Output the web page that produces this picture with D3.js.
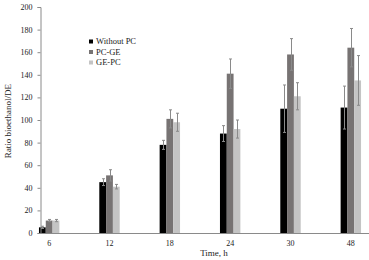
<!DOCTYPE html>
<html>
<head>
<meta charset="utf-8">
<script src="https://cdn.jsdelivr.net/npm/d3@7"></script>
<style>
  body { margin: 0; background: #fff; }
  svg { display: block; font-family: "Liberation Serif", "Times New Roman", serif; }
</style>
</head>
<body>
<div id="chart"></div>
<script>
// data
const hours = ['6', '12', '18', '24', '30', '48'];
const seriesNames = ['Without PC', 'PC-GE', 'GE-PC'];
const withoutPC = [5, 45, 78, 88, 110, 111];
const pcGE = [11, 51, 101, 141, 158, 164];
const gePC = [11, 41, 98, 92, 121, 135];
const errWithoutPC = [1, 3, 4, 7, 21, 19];
const errPcGE = [1, 5, 8, 13, 14, 17];
const errGePC = [1, 2, 8, 8, 12, 22];
const yTicks = [0, 20, 40, 60, 80, 100, 120, 140, 160, 180, 200];

const colors = ['#000000', '#777373', '#c4c4c4'];
const values = [withoutPC, pcGE, gePC];
const errors = [errWithoutPC, errPcGE, errGePC];

const width = 369, height = 260;
const axisX = 40;

const svg = d3.select('#chart').append('svg')
  .attr('width', width)
  .attr('height', height);

const x = d3.scaleBand()
  .domain(hours)
  .range([19, 381])
  .paddingInner(0)
  .paddingOuter(0);

const groupW = 20.4;
const x1 = d3.scaleBand()
  .domain(seriesNames)
  .range([0, groupW])
  .padding(0);

const y = d3.scaleLinear()
  .domain([0, 200])
  .range([233, 7]);

// bars
seriesNames.forEach(function(name, si) {
  svg.append('g')
    .selectAll('rect')
    .data(hours)
    .join('rect')
    .attr('x', function(h) { return x(h) + x.bandwidth() / 2 - groupW / 2 + x1(name); })
    .attr('y', function(h, i) { return y(values[si][i]); })
    .attr('width', x1.bandwidth())
    .attr('height', function(h, i) { return y(0) - y(values[si][i]); })
    .attr('fill', colors[si]);
});

// error bars
seriesNames.forEach(function(name, si) {
  const g = svg.append('g').attr('stroke', '#8a8a8a').attr('stroke-width', 1);
  hours.forEach(function(h, i) {
    const cx = Math.round(x(h) + x.bandwidth() / 2 - groupW / 2 + x1(name) + x1.bandwidth() / 2) + 0.5;
    const v = values[si][i], e = errors[si][i];
    g.append('line')
      .attr('x1', cx).attr('x2', cx)
      .attr('y1', y(v + e)).attr('y2', y(v - e));
    g.append('line')
      .attr('x1', cx - 1.5).attr('x2', cx + 1.5)
      .attr('y1', y(v + e)).attr('y2', y(v + e));
    g.append('line')
      .attr('x1', cx - 1.5).attr('x2', cx + 1.5)
      .attr('y1', y(v - e)).attr('y2', y(v - e));
  });
});

// y axis
const yAxis = svg.append('g')
  .attr('transform', 'translate(' + (axisX + 0.5) + ',0)')
  .call(d3.axisLeft(y).tickValues(yTicks).tickSize(3).tickPadding(5));
yAxis.select('.domain').attr('stroke', '#8a8a8a');
yAxis.selectAll('.tick line').attr('stroke', '#8a8a8a');
yAxis.selectAll('.tick text')
  .attr('fill', '#222')
  .style('font-size', '8px')
  .style('font-family', '"Liberation Serif", serif');

// x axis
const xAxis = svg.append('g')
  .attr('transform', 'translate(0,' + (y(0) + 0.5) + ')')
  .call(d3.axisBottom(x).tickSize(0).tickPadding(7));
xAxis.select('.domain').attr('stroke', '#8a8a8a')
  .attr('d', 'M' + axisX + ',0H' + width);
xAxis.selectAll('.tick text')
  .attr('fill', '#222')
  .style('font-size', '8px')
  .style('font-family', '"Liberation Serif", serif');

// axis titles
svg.append('text')
  .attr('transform', 'translate(11,121) rotate(-90)')
  .attr('text-anchor', 'middle')
  .style('font-size', '9px')
  .attr('fill', '#222')
  .text('Ratio bioethanol/DE');

svg.append('text')
  .attr('x', 214)
  .attr('y', 256)
  .attr('text-anchor', 'middle')
  .style('font-size', '9px')
  .attr('fill', '#222')
  .text('Time, h');

// legend
const legend = svg.append('g').attr('transform', 'translate(89,44)');
seriesNames.forEach(function(name, si) {
  const row = legend.append('g').attr('transform', 'translate(0,' + si * 10.5 + ')');
  row.append('rect')
    .attr('x', 0).attr('y', -4.5)
    .attr('width', 4).attr('height', 4)
    .attr('fill', colors[si]);
  row.append('text')
    .attr('x', 7).attr('y', 0)
    .style('font-size', '8.5px')
    .attr('fill', '#222')
    .text(name);
});
</script>
</body>
</html>
